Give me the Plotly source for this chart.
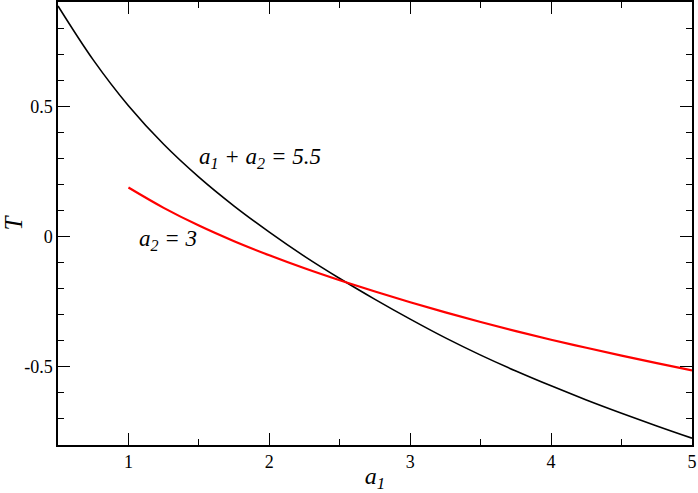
import plotly.graph_objects as go

# a1 + a2 = 5.5 (black)
a1_black = [0.5, 0.75, 1.0, 1.25, 1.5, 1.75, 2.0, 2.25, 2.5, 2.75, 3.0, 3.25, 3.5, 3.75, 4.0, 4.25, 4.5, 4.75, 5.0]
t_black = [0.885, 0.678, 0.502, 0.354, 0.228, 0.117, 0.017, -0.076, -0.161, -0.241, -0.317, -0.389, -0.455, -0.516, -0.573, -0.627, -0.678, -0.727, -0.774]

# a2 = 3 (red)
a1_red = [1.0, 1.25, 1.5, 1.75, 2.0, 2.25, 2.5, 2.75, 3.0, 3.25, 3.5, 3.75, 4.0, 4.25, 4.5, 4.75, 5.0]
t_red = [0.188, 0.110, 0.042, -0.018, -0.072, -0.122, -0.168, -0.211, -0.252, -0.291, -0.328, -0.363, -0.396, -0.427, -0.457, -0.486, -0.514]

x_ticks = [1, 2, 3, 4, 5]
y_ticks = [-0.5, 0, 0.5]
y_tick_labels = ["-0.5", "0", "0.5"]

serif = "Liberation Serif, Times New Roman, serif"

fig = go.Figure()
fig.add_trace(go.Scatter(x=a1_black, y=t_black, mode="lines", line=dict(color="black", width=1.6, shape="spline", smoothing=1.0), showlegend=False))
fig.add_trace(go.Scatter(x=a1_red, y=t_red, mode="lines", line=dict(color="red", width=2.2, shape="spline", smoothing=1.0), showlegend=False))

fig.add_annotation(x=1.49, y=0.30, xref="x", yref="y", xanchor="left", yanchor="middle", showarrow=False,
                   text="<i>a<sub>1</sub> + a<sub>2</sub> = 5.5</i>", font=dict(family=serif, size=23, color="black"))
fig.add_annotation(x=1.06, y=-0.015, xref="x", yref="y", xanchor="left", yanchor="middle", showarrow=False,
                   text="<i>a<sub>2</sub> = 3</i>", font=dict(family=serif, size=23, color="black"))

axis_common = dict(showgrid=False, zeroline=False, showline=True, linecolor="black", linewidth=1.5,
                   ticks="inside", ticklen=12, tickwidth=1.2, tickcolor="black", mirror="allticks",
                   automargin=False,
                   tickfont=dict(family=serif, size=18, color="black"))

fig.update_xaxes(range=[0.5, 5], tickvals=x_ticks, ticktext=[str(v) for v in x_ticks],
                 minor=dict(dtick=0.5, tick0=0, ticks="inside", ticklen=6, tickwidth=1.2, tickcolor="black"),
                 title=dict(text="<i>a<sub>1</sub></i>", font=dict(family=serif, size=24, color="black"), standoff=2),
                 **axis_common)
fig.update_yaxes(range=[-0.8, 0.9], tickvals=y_ticks, ticktext=y_tick_labels,
                 minor=dict(dtick=0.1, tick0=0, ticks="inside", ticklen=6, tickwidth=1.2, tickcolor="black"),
                 title=dict(text="<i>T</i>", font=dict(family=serif, size=25, color="black"), standoff=8),
                 **axis_common)

fig.update_layout(width=698, height=493, margin=dict(l=58, r=6, t=2, b=48),
                  plot_bgcolor="white", paper_bgcolor="white")

fig.write_html("out.html", config={"displayModeBar": False},
               post_script="document.body.style.margin='0';document.body.style.padding='0';")
